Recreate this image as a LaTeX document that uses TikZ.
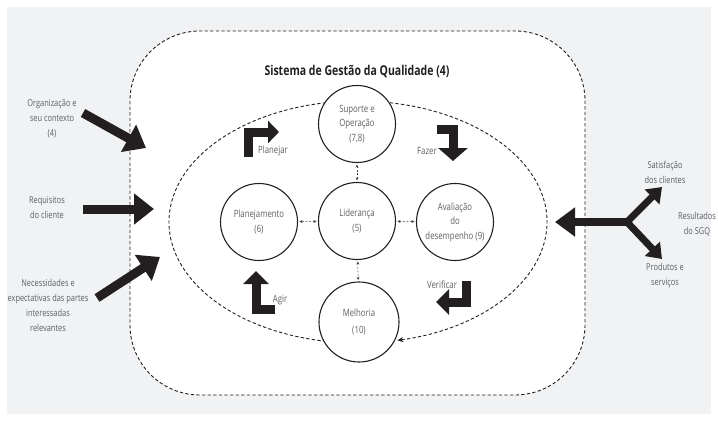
\documentclass[tikz,border=0pt]{standalone}
\usepackage{fontspec}
\setmainfont{Open Sans}[FakeStretch=0.78]
\usetikzlibrary{arrows.meta}
\definecolor{ink}{HTML}{231F20}
\definecolor{txt}{HTML}{5E5F62}
\definecolor{paper}{HTML}{F1F2F4}
\begin{document}
\begin{tikzpicture}[x=1pt,y=-1pt,
  boundary/.style={draw=ink, line width=0.9pt, dash pattern=on 3.3pt off 2.3pt},
  stage/.style={circle, draw=ink, line width=1.1pt, fill=white, minimum size=77pt,
    inner sep=0pt, align=center, text=txt, font=\fontsize{10}{14.5}\selectfont},
  link/.style={draw=ink!85, line width=0.5pt, dash pattern=on 2pt off 1.5pt,
    {Stealth[length=3pt,width=3pt]}-{Stealth[length=3pt,width=3pt]},
    shorten >=1.5pt, shorten <=1.5pt},
  cycle/.style={draw=ink, line width=9pt, line join=miter, line cap=butt,
    -{Triangle[length=13pt,width=25pt]}},
  feed/.style={draw=ink, line width=9pt, line cap=butt,
    -{Triangle[length=20pt,width=30pt]}},
  label/.style={text=txt, align=center, font=\fontsize{9.5}{15}\selectfont, inner sep=0pt},
]
\useasboundingbox (0,0) rectangle (718,421);
\fill[white] (0,0) rectangle (718,421);
\fill[paper] (7,7) rectangle (711,414);

% outer boundary of the quality management system
\draw[boundary, fill=white, rounded corners=70pt] (130,31) rectangle (585,395);
\node[text=ink, font=\fontsize{13.5}{16}\selectfont\bfseries] (title) at (357,72)
  {Sistema de Gestão da Qualidade (4)};

% PDCA cycle path
\coordinate (cen) at (358,222);
\draw[boundary, -{Stealth[length=6pt,width=5pt]}]
  (cen) ++(262:189pt and 121pt)
  arc[start angle=262, end angle=-78, x radius=189pt, y radius=121pt];

% stages
\node[stage] (sup) at (357,124) {Suporte e\\Operação\\(7,8)};
\node[stage] (lid) at (357,221) {Liderança\\(5)};
\node[stage] (pla) at (259,222) {Planejamento\\(6)};
\node[stage] (ava) at (455,222) {Avaliação\\do\\desempenho (9)};
\node[stage, minimum size=80pt] (mel) at (359,322) {Melhoria\\[2pt](10)};

\draw[link] (sup) -- (lid);
\draw[link] (lid) -- (mel);
\draw[link] (lid) -- (pla);
\draw[link] (lid) -- (ava);

% PDCA turn arrows
\coordinate (p0) at (248,157); \coordinate (p1) at (248,132); \coordinate (p2) at (279,132);
\draw[cycle, -{Triangle[length=11pt,width=22pt]}] (p0) -- (p1) -- (p2);
\node[label, font=\fontsize{10}{12}\selectfont] (tplan) at (273,151) {Planejar};

\coordinate (f0) at (437,129); \coordinate (f1) at (453,129); \coordinate (f2) at (453,161);
\draw[cycle, -{Triangle[length=13pt,width=29pt]}] (f0) -- (f1) -- (f2);
\node[label, font=\fontsize{10}{12}\selectfont] (tfaz) at (427,151) {Fazer};

\coordinate (v0) at (466,281); \coordinate (v1) at (466,302); \coordinate (v2) at (436,302);
\draw[cycle] (v0) -- (v1) -- (v2);
\node[label, font=\fontsize{10}{12}\selectfont] (tver) at (442,285) {Verificar};

\coordinate (a0) at (275,309); \coordinate (a1) at (256,309); \coordinate (a2) at (256,271);
\draw[cycle] (a0) -- (a1) -- (a2);
\node[label, font=\fontsize{10}{12}\selectfont] (tagi) at (280,300) {Agir};

% inputs
\node[label] (org) at (52,119) {Organização e\\seu contexto\\(4)};
\node[label] (req) at (47,208) {Requisitos\\do cliente};
\node[label] (nec) at (48,305) {Necessidades e\\expectativas das partes\\interessadas\\relevantes};
\coordinate (o0) at (83,113); \coordinate (o1) at (146,148);
\coordinate (r0) at (83,209); \coordinate (r1) at (154,209);
\coordinate (n0) at (97,298); \coordinate (n1) at (160,257);
\draw[feed] (o0) -- (o1);
\draw[feed] (r0) -- (r1);
\draw[feed] (n0) -- (n1);

% outputs
\coordinate (fork) at (627,222);
\coordinate (out) at (555,222);
\coordinate (s1) at (662,187);
\coordinate (d1) at (662,259);
\draw[feed, line width=8pt, -{Triangle[length=20pt,width=28pt]}] (fork) -- (out);
\draw[draw=ink, line width=7pt, line join=miter,
  {Triangle[length=14pt,width=20pt]}-{Triangle[length=14pt,width=20pt]}] (s1) -- (fork) -- (d1);
\node[label] (sat) at (665,172) {Satisfação\\dos clientes};
\node[label] (res) at (697,224) {Resultados\\do SGQ};
\node[label] (pro) at (665,276) {Produtos e\\serviços};
\end{tikzpicture}
\end{document}
